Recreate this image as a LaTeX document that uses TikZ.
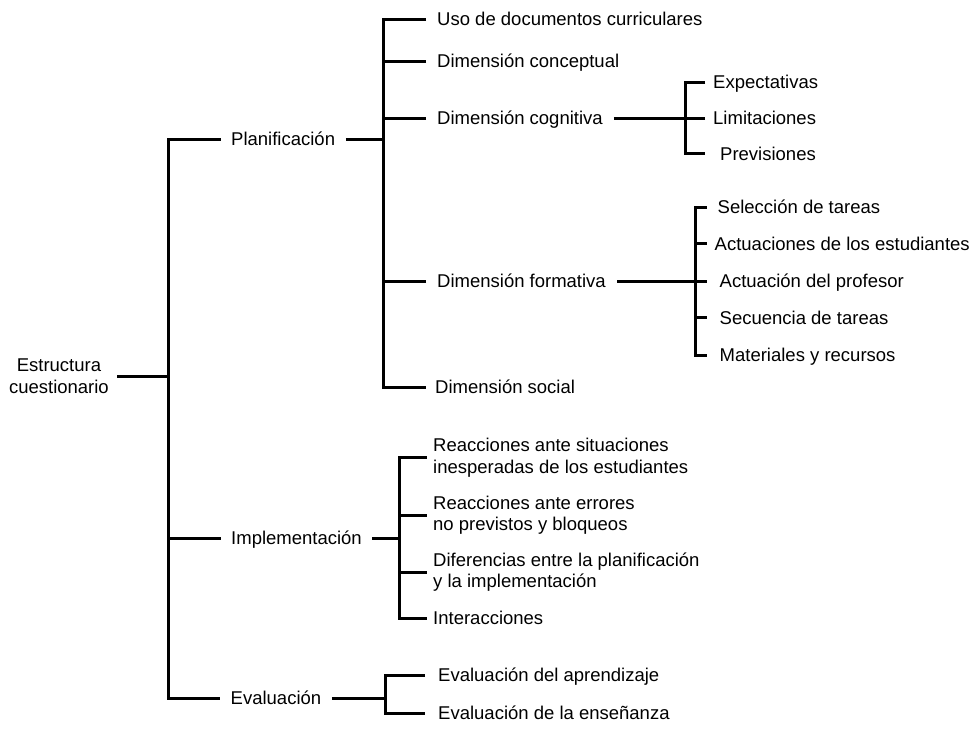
\documentclass[tikz,border=0pt]{standalone}
\usepackage{fontspec}
\setmainfont{Liberation Sans}
\begin{document}
\begin{tikzpicture}[x=1pt,y=-1pt,
  lbl/.style={font=\fontsize{18.5}{21.5}\selectfont, inner ysep=0pt, inner xsep=10.5pt, text height=13.2pt, text depth=0pt, anchor=west},
  lblg/.style={lbl, inner xsep=#1},
  lbltwo/.style={font=\fontsize{18.5}{21.5}\selectfont, inner ysep=0pt, inner xsep=#1, align=left, anchor=west},
  conn/.style={line width=3pt, line cap=butt},
]
\useasboundingbox (0,0) rectangle (972,731);

% root
\node[font=\fontsize{18.5}{21.5}\selectfont, align=center, inner ysep=0pt, inner xsep=8pt, anchor=east] (root) at (117,376) {Estructura\\cuestionario};
\coordinate (jR) at (168,376);

% level 1
\node[lbl] (plan) at (220.5,139) {Planificación};
\node[lbl] (impl) at (220.5,538) {Implementación};
\node[lbl] (eval) at (220,698) {Evaluación};

% Planificacion children
\coordinate (jP) at (383.3,139);
\node[lblg=11pt] (uso)  at (426,19)  {Uso de documentos curriculares};
\node[lblg=11pt] (conc) at (426,61)  {Dimensión conceptual};
\node[lblg=11pt] (cogn) at (426,118) {Dimensión cognitiva};
\node[lblg=11pt] (form) at (426,281) {Dimensión formativa};
\node[lblg=9pt]  (soc)  at (426,387) {Dimensión social};

% cognitiva children
\coordinate (jC) at (685,118);
\node[lblg=8pt]  (expe) at (705,82)    {Expectativas};
\node[lblg=8pt]  (limi) at (705,118)   {Limitaciones};
\node[lblg=15pt] (prev) at (705,153.5) {Previsiones};

% formativa children
\coordinate (jF) at (695,281);
\node[lblg=11pt] (sel)  at (706.5,207)   {Selección de tareas};
\node[lblg=8pt]  (actu) at (706.5,243.5) {Actuaciones de los estudiantes};
\node[lblg=13pt] (acpr) at (706.5,281)   {Actuación del profesor};
\node[lblg=13pt] (sec)  at (706.5,317.5) {Secuencia de tareas};
\node[lblg=13pt] (mat)  at (706.5,355)   {Materiales y recursos};

% implementacion children
\coordinate (jI) at (399.3,538);
\node[lbltwo=6.3pt] (rsit) at (426.7,457.5) {Reacciones ante situaciones\\inesperadas de los estudiantes};
\node[lbltwo=6.3pt] (rerr) at (426.7,515)   {Reacciones ante errores\\no previstos y bloqueos};
\node[lbltwo=6.3pt] (dife) at (426.7,572)   {Diferencias entre la planificación\\y la implementación};
\node[lblg=6.3pt]   (inte) at (426.7,618)   {Interacciones};

% evaluacion children
\coordinate (jE) at (385,698);
\node[lblg=13pt] (eapr) at (425,675) {Evaluación del aprendizaje};
\node[lblg=13pt] (eens) at (425,713) {Evaluación de la enseñanza};

% connectors
\draw[conn] (root.east) -- (jR);
\draw[conn] (plan.west) -| (jR) |- (eval.west);
\draw[conn] (impl.west) -- (impl.west -| jR);

\draw[conn] (plan.east) -- (jP);
\draw[conn] (uso.west) -| (jP) |- (soc.west);
\foreach \c in {conc,cogn,form} \draw[conn] (\c.west) -- (\c.west -| jP);

\draw[conn] (cogn.east) -- (jC);
\draw[conn] (expe.west) -| (jC) |- (prev.west);
\draw[conn] (limi.west) -- (limi.west -| jC);

\draw[conn] (form.east) -- (jF);
\draw[conn] (sel.west) -| (jF) |- (mat.west);
\foreach \c in {actu,acpr,sec} \draw[conn] (\c.west) -- (\c.west -| jF);

\draw[conn] (impl.east) -- (jI);
\draw[conn] (rsit.west) -| (jI) |- (inte.west);
\foreach \c in {rerr,dife} \draw[conn] (\c.west) -- (\c.west -| jI);

\draw[conn] (eval.east) -- (jE);
\draw[conn] (eapr.west) -| (jE) |- (eens.west);
\end{tikzpicture}
\end{document}
